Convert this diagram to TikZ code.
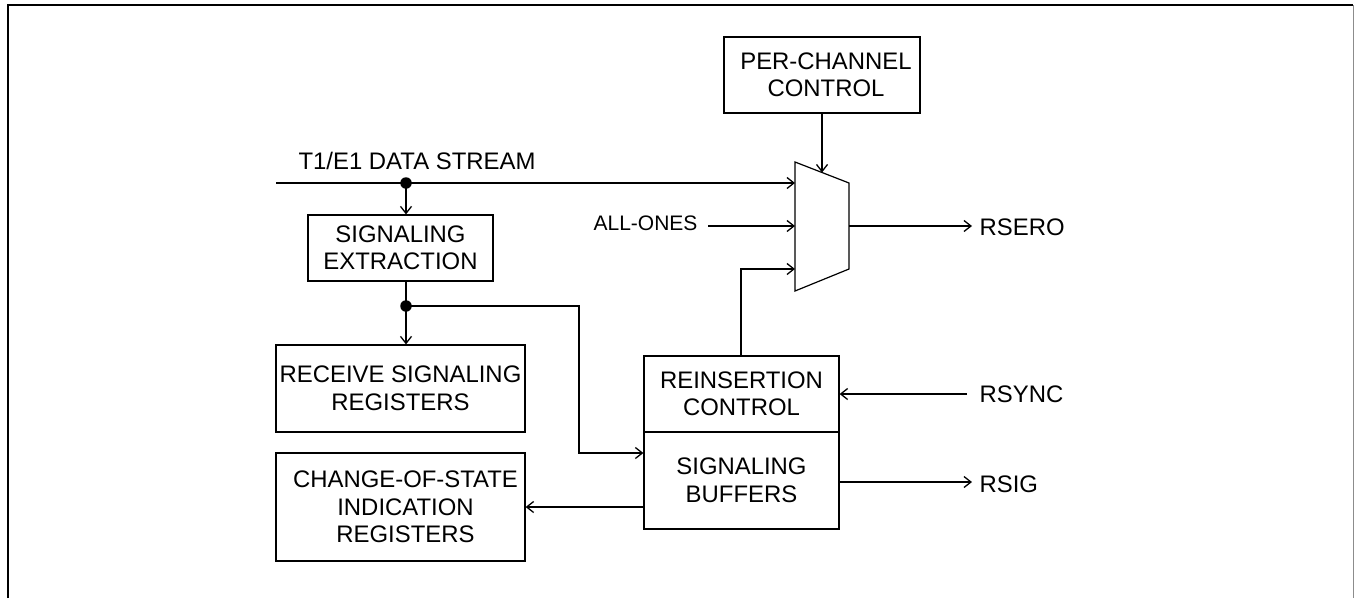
\documentclass[tikz,border=0pt]{standalone}
\usepackage{fontspec}
\setmainfont{Liberation Sans}
\usetikzlibrary{arrows.meta}
\begin{document}
\begin{tikzpicture}[x=1pt,y=-1pt,
  line width=1.2pt,
  every node/.style={font=\fontsize{23.9}{27.5}\selectfont, inner sep=0pt},
  blk/.style={draw, rectangle, align=center, line width=1.2pt},
  lbl/.style={anchor=base west},
  arr/.style={-{Straight Barb[length=7pt,width=11pt,line width=1.3pt]}},
  dot/.style={circle, fill, minimum size=11.5pt, inner sep=0pt}]
\useasboundingbox (0,0) rectangle (1354,598);
% frame
\draw[line width=2pt] (8,598) -- (8,5) -- (1353,5);
\draw[line width=1pt, black!45] (1353,5) -- (1353,598);

% blocks
\node[blk, minimum width=185pt, minimum height=66pt] (sx) at (400.5,248) {SIGNALING\\EXTRACTION};
\node[blk, minimum width=249pt, minimum height=87pt] (rs) at (400.5,388.5) {RECEIVE SIGNALING\\REGISTERS};
\node[blk, minimum width=249pt, minimum height=108pt] (cs) at (400.5,507) {\hspace*{10pt}CHANGE-OF-STATE\\\hspace*{10pt}INDICATION\\\hspace*{10pt}REGISTERS};
\node[blk, minimum width=195pt, minimum height=76pt] (rc) at (741.5,394) {REINSERTION\\CONTROL};
\node[blk, minimum width=195pt, minimum height=97pt] (sb) at (741.5,480.5) {SIGNALING\\BUFFERS};
\node[blk, minimum width=196pt, minimum height=76pt] (pc) at (822,75) {\hspace*{8pt}PER-CHANNEL\\\hspace*{8pt}CONTROL};

% mux
\coordinate (mtl) at (795,162);
\coordinate (mtr) at (849,183);
\coordinate (mbr) at (849,269);
\coordinate (mbl) at (795,291);
\draw (mtl) -- (mtr) -- (mbr) -- (mbl) -- cycle;
\coordinate (min1) at (795,183);
\coordinate (min2) at (795,226);
\coordinate (min3) at (795,269);
\coordinate (mout) at (849,226);
\coordinate (mtop) at (822,172.5);

% labels
\node[lbl] (ds) at (298,169) {T1/E1 DATA STREAM};
\node[lbl, font=\fontsize{21}{25}\selectfont] (ao) at (593,230) {ALL-ONES};
\node[lbl] (rsero) at (979,235) {RSERO};
\node[lbl] (rsync) at (979,402) {RSYNC};
\node[lbl] (rsig) at (979,492) {RSIG};

% dots
\node[dot] (d1) at (406,183) {};
\node[dot] (d2) at (406,306) {};
\coordinate (dsin) at (276,183);
\coordinate (aoin) at (708,226);
\coordinate (rseroend) at (972,226);
\coordinate (rsyncst) at (967,394);
\coordinate (rsigend) at (972,482);
\coordinate (rcup) at (741,356);

% connectors
\draw (dsin) -- (d1.center);
\draw[arr] (d1.center) -- (min1);
\draw[arr] (d1.center) -- (d1.center |- sx.north);
\draw (sx.south -| d2) -- (d2.center);
\draw[arr] (d2.center) -- (d2.center |- rs.north);
\draw[arr] (d2.center) -- (579,306) -- (579,453) -- (sb.west |- 0,453);
\draw[arr] (aoin) -- (min2);
\draw[arr] (rcup) -- (741,269) -- (min3);
\draw[arr] (pc.south -| mtop) -- (mtop);
\draw[arr] (mout) -- (rseroend);
\draw[arr] (rsyncst) -- (rc.east);
\draw[arr] (sb.east |- rsigend) -- (rsigend);
\draw[arr] (sb.west |- 0,507) -- (cs.east |- 0,507);
\end{tikzpicture}
\end{document}
